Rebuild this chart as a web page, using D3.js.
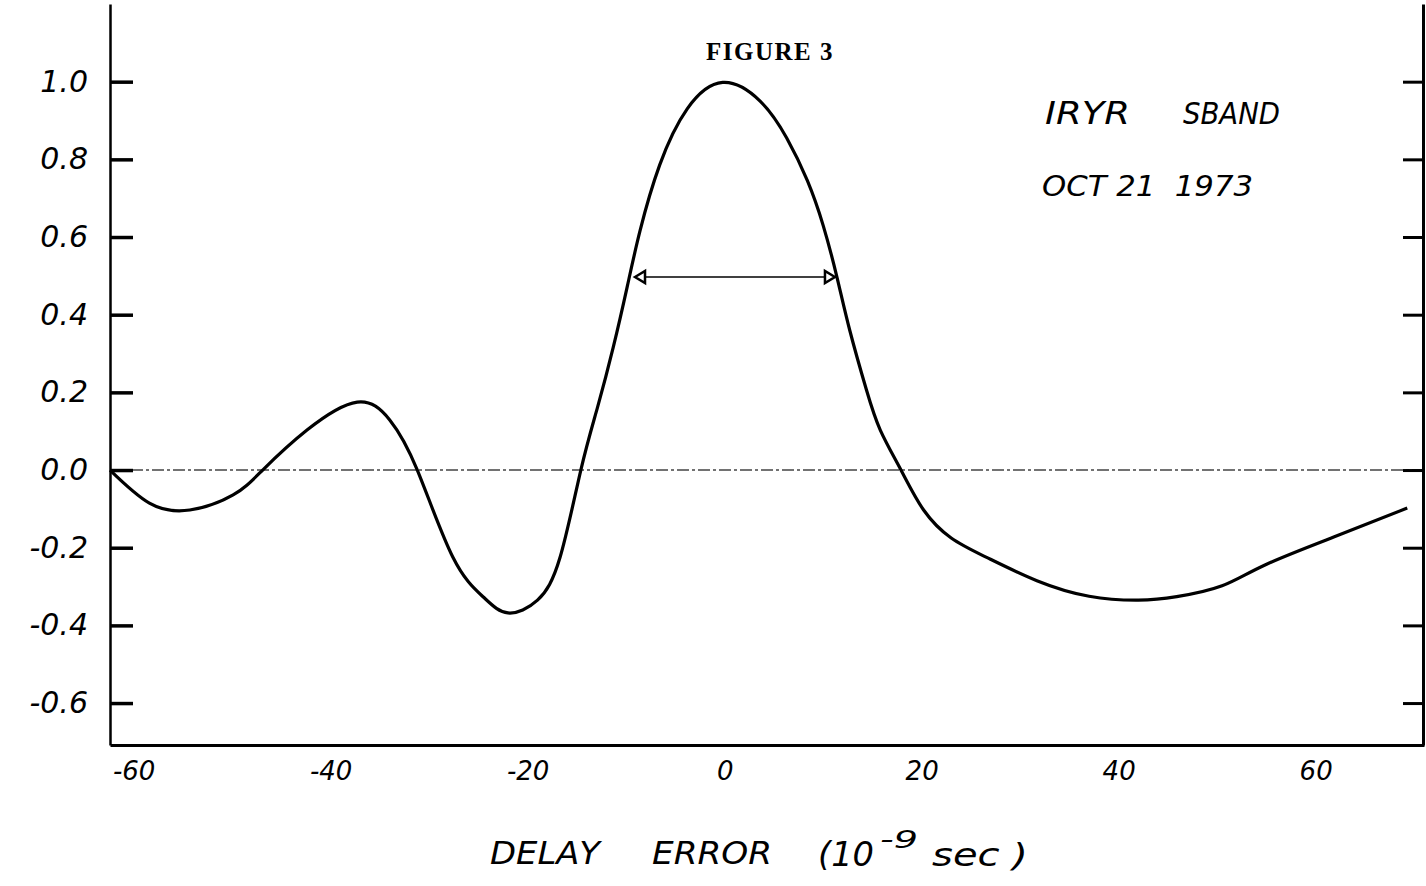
<!DOCTYPE html>
<html>
<head>
<meta charset="utf-8">
<script src="https://cdn.jsdelivr.net/npm/d3@7"></script>
<style>
  body { margin: 0; background: #fff; }
  text { fill: #000; white-space: pre; }
</style>
</head>
<body>
<div id="chart"></div>
<script>
// delay error (1e-9 sec) vs normalized correlation
const delay = [-62.4, -58.4, -54.3, -49.9, -46.9, -42.4, -37.3, -34.0, -31.2, -27.6, -24.5, -22.0,
  -19.0, -16.7, -14.6, -12.9, -11.3, -9.9, -8.6, -6.6, -3.8, -0.2, 3.6, 6.3, 8.4, 10.0, 11.4,
  12.7, 14.4, 15.8, 17.9, 20.2, 23.0, 26.6, 31.7, 37.0, 42.0, 45.9, 50.5, 54.8, 61.9, 69.3]
const corr = [0.0, -0.085, -0.103, -0.064, 0.0, 0.103, 0.175, 0.129, 0.0, -0.224, -0.327, -0.368,
  -0.335, -0.224, 0.0, 0.162, 0.317, 0.471, 0.615, 0.785, 0.93, 0.998, 0.95, 0.855, 0.745, 0.63, 0.497,
  0.36, 0.206, 0.103, 0.0, -0.103, -0.175, -0.225, -0.285, -0.325, -0.335, -0.326, -0.298, -0.245, -0.172, -0.098]

const yTicks = [1.0, 0.8, 0.6, 0.4, 0.2, 0.0, -0.2, -0.4, -0.6]
const xTicks = [-60, -40, -20, 0, 20, 40, 60]
const halfWidth = [-9.1, 11.2]   // arrow at half maximum
const halfLevel = 0.497

const width = 1426, height = 886

const svg = d3.select("#chart").append("svg")
  .attr("width", width)
  .attr("height", height)

const x = d3.scaleLinear().domain([-62.4, 71.0]).range([110, 1424])
const y = d3.scaleLinear().domain([-0.708, 1.2]).range([745, 4])

const hand = "'DejaVu Sans', sans-serif"
const fmtY = d => d3.format(".1f")(d).replace("\u2212", "-")
const fmtX = d => String(d)

// zero line, dash-dot
svg.append("line")
  .attr("x1", x(-62.4)).attr("x2", x(71))
  .attr("y1", y(0)).attr("y2", y(0))
  .attr("stroke", "#444")
  .attr("stroke-width", 1.5)
  .attr("stroke-dasharray", "12,3,3,3")

// left axis, ticks pointing in
const left = svg.append("g")
  .attr("transform", `translate(${x(-62.4)},0)`)
  .call(d3.axisLeft(y).tickValues(yTicks).tickSizeInner(-23).tickSizeOuter(0).tickPadding(22)
    .tickFormat(fmtY))
left.select(".domain").attr("stroke-width", 2.5)
left.selectAll(".tick line").attr("stroke-width", 3.5)
left.selectAll(".tick text")
  .attr("font-family", hand)
  .attr("font-style", "italic")
  .attr("font-size", 30)

// right axis
const right = svg.append("g")
  .attr("transform", `translate(${x(71) - 1},0)`)
  .call(d3.axisRight(y).tickValues(yTicks).tickSizeInner(-20).tickSizeOuter(0).tickFormat(""))
right.select(".domain").attr("stroke-width", 3)
right.selectAll(".tick line").attr("stroke-width", 3)

// bottom axis
const bottom = svg.append("g")
  .attr("transform", `translate(0,${y(-0.708)})`)
  .call(d3.axisBottom(x).tickValues(xTicks).tickSize(0).tickPadding(17).tickFormat(fmtX))
bottom.select(".domain").attr("stroke-width", 3)
bottom.selectAll(".tick text")
  .attr("font-family", hand)
  .attr("font-style", "italic")
  .attr("font-size", 26)

// curve
const pts = delay.map((d, i) => [d, corr[i]])
svg.append("path")
  .datum(pts)
  .attr("fill", "none")
  .attr("stroke", "#000")
  .attr("stroke-width", 3.2)
  .attr("stroke-linejoin", "round")
  .attr("d", d3.line().x(d => x(d[0])).y(d => y(d[1])).curve(d3.curveNatural))

// half-width arrow
svg.append("line")
  .attr("x1", x(halfWidth[0])).attr("x2", x(halfWidth[1]))
  .attr("y1", y(halfLevel)).attr("y2", y(halfLevel))
  .attr("stroke", "#000").attr("stroke-width", 1.5)
const tri = (xp, dir) => {
  const yp = y(halfLevel)
  return `M${xp},${yp} L${xp - dir * 10},${yp - 6} L${xp - dir * 10},${yp + 6} Z`
}
svg.append("path").attr("d", tri(x(halfWidth[0]), -1))
  .attr("fill", "#fff").attr("stroke", "#000").attr("stroke-width", 2.5)
svg.append("path").attr("d", tri(x(halfWidth[1]), 1))
  .attr("fill", "#fff").attr("stroke", "#000").attr("stroke-width", 2.5)

// title
svg.append("text")
  .attr("x", 770).attr("y", 60)
  .attr("text-anchor", "middle")
  .attr("font-family", "'Liberation Serif', serif")
  .attr("font-weight", "bold")
  .attr("font-size", 25)
  .attr("letter-spacing", 1.5)
  .text("FIGURE 3")

// notes
const note = (txt, x0, y0, len, size) => svg.append("text")
  .attr("x", x0).attr("y", y0)
  .attr("font-family", hand).attr("font-style", "italic").attr("font-size", size)
  .attr("textLength", len).attr("lengthAdjust", "spacingAndGlyphs")
  .text(txt)
note("IRYR", 1045, 124, 85, 32)
note("SBAND", 1183, 124, 97, 30)
note("OCT 21  1973", 1042, 196, 211, 28)

// x-axis title
note("DELAY", 490, 864, 110, 32)
note("ERROR", 652, 864, 120, 32)
note("(10", 818, 866, 56, 34)
note("-9", 880, 848, 38, 24)
note("sec )", 932, 866, 96, 32)
</script>
</body>
</html>
